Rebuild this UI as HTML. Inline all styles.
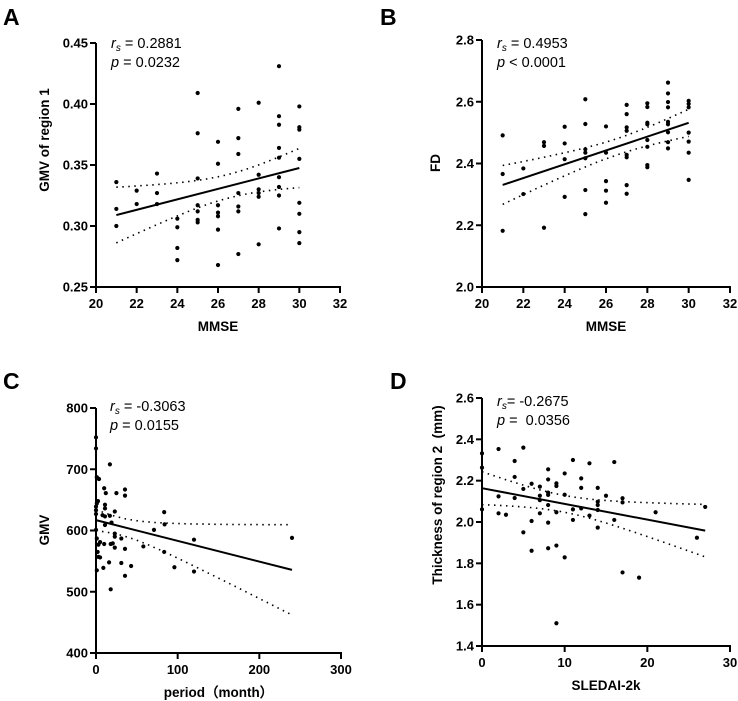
<!DOCTYPE html>
<html><head><meta charset="utf-8"><style>
html,body{margin:0;padding:0;background:#fff;}
svg{display:block;font-family:"Liberation Sans",Arial,sans-serif;}
</style></head><body>
<svg id="fig" width="738" height="701" viewBox="0 0 738 701">
<text x="3" y="25" font-size="23" font-weight="bold">A</text>
<text x="380" y="25" font-size="23" font-weight="bold">B</text>
<text x="3" y="389" font-size="23" font-weight="bold">C</text>
<text x="390" y="389" font-size="23" font-weight="bold">D</text>
</svg>
<script>
// Panel A data (MMSE vs GMV of region 1)
const aX=[21,21,21,22,22,23,23,23,24,24,24,24,25,25,25,25,25,25,25,26,26,26,26,26,26,26,27,27,27,27,27,27,27,28,28,28,28,28,28,29,29,29,29,29,29,29,29,29,30,30,30,30,30,30,30,30];
const aY=[0.336,0.314,0.300,0.329,0.318,0.343,0.327,0.318,0.306,0.299,0.282,0.272,0.409,0.376,0.339,0.317,0.312,0.305,0.303,0.369,0.351,0.317,0.311,0.308,0.297,0.268,0.396,0.372,0.359,0.327,0.316,0.312,0.277,0.401,0.342,0.330,0.327,0.324,0.285,0.431,0.390,0.383,0.364,0.356,0.340,0.332,0.325,0.298,0.398,0.381,0.379,0.355,0.319,0.310,0.295,0.286];
const aYTicks=[0.25,0.30,0.35,0.40,0.45];
const aXTicks=[20,22,24,26,28,30,32];
// Panel B data (MMSE vs FD)
const bX=[21,21,21,22,22,23,23,23,24,24,24,24,25,25,25,25,25,25,25,26,26,26,26,26,27,27,27,27,27,27,27,27,28,28,28,28,28,28,28,28,29,29,29,29,29,29,29,29,29,30,30,30,30,30,30,30];
const bY=[2.491,2.366,2.182,2.384,2.301,2.469,2.457,2.192,2.519,2.465,2.414,2.292,2.608,2.528,2.446,2.435,2.417,2.314,2.236,2.520,2.435,2.343,2.312,2.273,2.590,2.560,2.517,2.506,2.428,2.420,2.330,2.302,2.595,2.583,2.532,2.527,2.476,2.454,2.395,2.388,2.662,2.627,2.599,2.582,2.535,2.527,2.501,2.469,2.449,2.603,2.593,2.582,2.500,2.471,2.435,2.347];
const bYTicks=[2.0,2.2,2.4,2.6,2.8];
const bXTicks=[20,22,24,26,28,30,32];
// Panel C data (period vs GMV)
const cX=[0,0,2.4,3.7,1,17,10,12,25,35.5,35.5,2.4,1,0,0,0,11,11,8,11,17,23,19,0,11,23,23,1,5,3,10,18,20.5,23,31,35.5,58,71,83.5,84,83.5,120,240,2,3,5,16,31,43,9,1,96,120,35.5,18];
const cY=[752,734,685,684,687,708,669,661,661,667,657,648,644,639,633,627,642,636,625,623,624,631,613,601,609,595,590,587,581,577,578,578,579,572,587,570,574,601,630,610,565,585,588,565,557,556,548,547,542,539,535,540,533,526,504];
const cYTicks=[400,500,600,700,800];
const cXTicks=[0,100,200,300];
// Panel D data (SLEDAI-2k vs thickness)
const dX=[0,0,0,2,2,2,2.9,3.95,3.95,3.95,5,5,5,6,6,6,7,7,7,7,8,8,8,8,8,8,8,9,9,9,9,9,10,10,10,11,11,11,12,12,12,13,13,14,14,14,14,14,15,16,16,17,17,17,19,21,26,27];
const dY=[2.332,2.263,2.061,2.353,2.124,2.042,2.035,2.295,2.218,2.116,2.360,2.160,1.950,2.185,2.005,1.861,2.171,2.127,2.106,2.042,2.255,2.206,2.142,2.131,2.082,1.997,1.873,2.187,2.174,2.047,1.886,1.510,2.235,2.132,1.829,2.300,2.061,2.010,2.211,2.165,2.066,2.284,2.031,2.165,2.098,2.082,2.058,1.973,2.127,2.290,2.010,2.115,2.095,1.756,1.731,2.047,1.924,2.073];
const dYTicks=[1.4,1.6,1.8,2.0,2.2,2.4,2.6];
const dXTicks=[0,10,20,30];

const NS='http://www.w3.org/2000/svg';
const svg=document.getElementById('fig');
function mk(tag,attrs,parent){const e=document.createElementNS(NS,tag);for(const k in attrs)e.setAttribute(k,attrs[k]);(parent||svg).appendChild(e);return e;}

function panel(id,xs,ys,xt,yt,geo,fmtY,fmtX,xTitle,yTitle,ytx,yty,stat1,stat2,sx,sy){
  const g=mk('g',{});
  
  
  const X=v=>geo.x0+(v-xt[0])/(xt[xt.length-1]-xt[0])*(geo.x1-geo.x0);
  const Y=v=>geo.y0-(v-yt[0])/(yt[yt.length-1]-yt[0])*(geo.y0-geo.y1);
  const ya=mk('line',{x1:geo.x0,y1:geo.y1,x2:geo.x0,y2:geo.y0+1,stroke:'#000','stroke-width':2},g);
  
  
  const xa=mk('line',{x1:geo.x0-1,y1:geo.y0,x2:geo.x1+1,y2:geo.y0,stroke:'#000','stroke-width':2},g);
  
  
  yt.forEach(v=>{
    mk('line',{x1:geo.x0-6,y1:Y(v),x2:geo.x0,y2:Y(v),stroke:'#000','stroke-width':2},g);
    const t=mk('text',{x:geo.x0-8,y:Y(v)+4.5,'text-anchor':'end','font-size':13,'font-weight':'bold'},g);
    t.textContent=fmtY(v);
    
    
  });
  xt.forEach(v=>{
    mk('line',{x1:X(v),y1:geo.y0,x2:X(v),y2:geo.y0+6,stroke:'#000','stroke-width':2},g);
    const t=mk('text',{x:X(v),y:geo.y0+21,'text-anchor':'middle','font-size':13,'font-weight':'bold'},g);
    t.textContent=fmtX(v);
    
    
  });
  const xtl=mk('text',{x:(geo.x0+geo.x1)/2,y:geo.y0+44,'text-anchor':'middle','font-size':13.5,'font-weight':'bold'},g);
  xtl.textContent=xTitle;
  
  
  const ytl=mk('text',{x:ytx,y:yty,'text-anchor':'middle','font-size':13.5,'font-weight':'bold',transform:'rotate(-90 '+ytx+' '+yty+')'},g);
  ytl.textContent=yTitle;
  
  
  const n=xs.length;let mx=0,my=0;for(let i=0;i<n;i++){mx+=xs[i];my+=ys[i];}mx/=n;my/=n;
  let sxx=0,sxy=0;for(let i=0;i<n;i++){sxx+=(xs[i]-mx)**2;sxy+=(xs[i]-mx)*(ys[i]-my);}
  const b=sxy/sxx,a=my-b*mx;let sse=0;for(let i=0;i<n;i++)sse+=(ys[i]-a-b*xs[i])**2;
  const s=Math.sqrt(sse/(n-2)),t=2.005;
  const xmin=Math.min(...xs),xmax=Math.max(...xs);
  let up='',lo='';
  for(let k=0;k<=40;k++){const xv=xmin+(xmax-xmin)*k/40;const yh=a+b*xv;const h=t*s*Math.sqrt(1/n+(xv-mx)**2/sxx);
    up+=(k?'L':'M')+X(xv).toFixed(1)+','+Y(yh+h).toFixed(1);lo+=(k?'L':'M')+X(xv).toFixed(1)+','+Y(yh-h).toFixed(1);}
  const cu=mk('path',{d:up,fill:'none',stroke:'#000','stroke-width':1.6,'stroke-dasharray':'1.5 4.5'},g);
  
  
  const cl=mk('path',{d:lo,fill:'none',stroke:'#000','stroke-width':1.6,'stroke-dasharray':'1.5 4.5'},g);
  
  
  const fl=mk('line',{x1:X(xmin),y1:Y(a+b*xmin),x2:X(xmax),y2:Y(a+b*xmax),stroke:'#000','stroke-width':2},g);
  
  
  for(let i=0;i<n;i++){
    const c=mk('circle',{cx:X(xs[i]),cy:Y(ys[i]),r:2.1,fill:'#000'},g);
    
    
  }
  const s1=mk('text',{x:sx,y:sy,'font-size':14.5},g);
  s1.innerHTML='<tspan font-style="italic">r</tspan><tspan font-style="italic" font-size="10" dy="3">s</tspan><tspan dy="-3">'+stat1+'</tspan>';
  
  
  const s2=mk('text',{x:sx,y:sy+19,'font-size':14.5},g);
  s2.innerHTML='<tspan font-style="italic">p</tspan>'+stat2;
  
  
}
panel('a',aX,aY,aXTicks,aYTicks,{x0:96,x1:340,y0:287,y1:43},v=>v.toFixed(2),v=>String(v),'MMSE','GMV of region 1',49,140,' = 0.2881',' = 0.0232',111,48);
panel('b',bX,bY,bXTicks,bYTicks,{x0:482,x1:730,y0:287,y1:40},v=>v.toFixed(1),v=>String(v),'MMSE','FD',440,163,' = 0.4953',' &lt; 0.0001',497,48);
panel('c',cX,cY,cXTicks,cYTicks,{x0:96,x1:341,y0:653,y1:408},v=>String(v),v=>String(v),'period（month）','GMV',49,530,' = -0.3063',' = 0.0155',110,411);
panel('d',dX,dY,dXTicks,dYTicks,{x0:482,x1:730,y0:646,y1:398},v=>v.toFixed(1),v=>String(v),'SLEDAI-2k','Thickness of region 2\u00a0\u00a0(mm)',442,495,'= -0.2675',' =\u00a0\u00a00.0356',497,406);
</script>
</body></html>
